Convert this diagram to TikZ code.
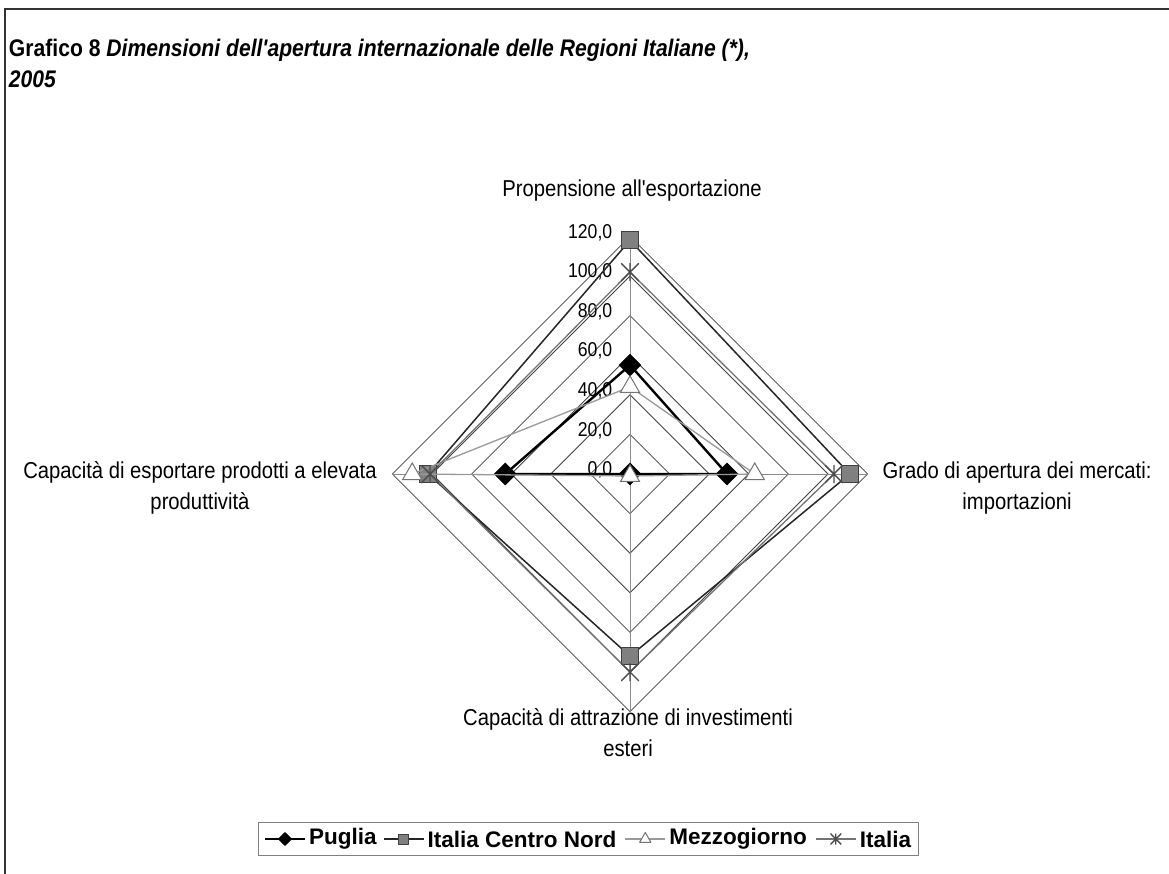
\documentclass[tikz,border=0pt]{standalone}
\usepackage{fontspec}
\setmainfont{Liberation Sans}
\newfontfamily\narrowfont[FakeStretch=0.88]{Liberation Sans}
\usetikzlibrary{shapes.geometric,positioning,fit}

\begin{document}
\begin{tikzpicture}
[x=1pt,y=-1pt,
  every node/.style={inner sep=0pt,outer sep=0pt},
  ring/.style={black!75,line width=0.8pt},
  spoke/.style={black!45,line width=0.7pt},
  axislab/.style={font=\narrowfont\fontsize{23}{31}\selectfont,align=center},
  ticklab/.style={font=\narrowfont\fontsize{20}{22}\selectfont,anchor=east},
  legtxt/.style={font=\bfseries\fontsize{22.5}{25}\selectfont,right=4pt of #1},
  puglia/.style={black,line width=2.4pt,line join=round},
  cnord/.style={black!85,line width=1.5pt,line join=round},
  mezzo/.style={black!40,line width=1.3pt,line join=round},
  italia/.style={black!55,line width=1.3pt,line join=round},
  dia/.style={diamond,fill=black,draw=black,minimum size=#1},
  dia/.default=22pt,
  sq/.style={rectangle,fill=black!50,draw=black!75,line width=1pt,minimum size=#1},
  sq/.default=17pt,
  tri/.style={regular polygon,regular polygon sides=3,fill=white,draw=black!55,line width=1pt,minimum size=#1},
  tri/.default=22pt,
  ast/.style={rectangle,minimum size=#1,black!70,
    path picture={\draw[line width=1.4pt]
      (path picture bounding box.north west) -- (path picture bounding box.south east)
      (path picture bounding box.north east) -- (path picture bounding box.south west)
      (path picture bounding box.north) -- (path picture bounding box.south);}},
  ast/.default=18pt]
\useasboundingbox (0,0) rectangle (1169,874);
\draw[black!80,line width=2pt] (1169,9) -- (5,9) -- (5,874);

% title
\node[anchor=base west,font=\narrowfont\bfseries\fontsize{24}{28}\selectfont] (title) at (9,57)
  {Grafico 8 \textit{Dimensioni dell'apertura internazionale delle Regioni Italiane (*),}};
\node[anchor=base west,font=\narrowfont\bfseries\fontsize{24}{28}\selectfont] (year) at (9,88)
  {\textit{2005}};

% radar grid
\begin{scope}[shift={(630,474)},x=1.98pt,y=1.98pt]
\foreach \r in {20,40,...,120}
  \draw[ring] (0,\r) -- (\r,0) -- (0,-\r) -- (-\r,0) -- cycle;
\draw[spoke] (0,120) -- (0,-120) (-120,0) -- (120,0);
\foreach \r in {0,20,...,120}
  \node[ticklab] (t\r) at (-9,\r+2) {\r,0};

% data points
\coordinate (p1) at (0,55);   \coordinate (p2) at (49,0);
\coordinate (p3) at (0,0);    \coordinate (p4) at (-63,0);
\coordinate (c1) at (0,118);  \coordinate (c2) at (111,0);
\coordinate (c3) at (0,-92);  \coordinate (c4) at (-102,0);
\coordinate (m1) at (0,44);   \coordinate (m2) at (63,0);
\coordinate (m3) at (0,-1);   \coordinate (m4) at (-110,0);
\coordinate (i1) at (0,102);  \coordinate (i2) at (103,0);
\coordinate (i3) at (0,-100); \coordinate (i4) at (-101,0);

\draw[puglia] (p1) -- (p2) -- (p3) -- (p4) -- cycle;
\foreach \i in {1,...,4} \node[dia] (pm\i) at (p\i) {};
\draw[cnord] (c1) -- (c2) -- (c3) -- (c4) -- cycle;
\foreach \i in {1,...,4} \node[sq] (cm\i) at (c\i) {};
\draw[mezzo] (m1) -- (m2) -- (m3) -- (m4) -- cycle;
\foreach \i in {1,...,4} \node[tri] (mm\i) at (m\i) {};
\draw[italia] (i1) -- (i2) -- (i3) -- (i4) -- cycle;
\foreach \i in {1,...,4} \node[ast] (im\i) at (i\i) {};
\end{scope}

% axis titles
\node[axislab] (prop) at (632,191) {Propensione all'esportazione};
\node[axislab] (grado) at (1017,488) {Grado di apertura dei mercati:\\importazioni};
\node[axislab] (capesp) at (200,488) {Capacità di esportare prodotti a elevata\\produttività};
\node[axislab] (capatt) at (628,733) {Capacità di attrazione di investimenti\\esteri};

% legend
\coordinate (la1) at (265,839);
\coordinate[right=40pt of la1] (lb1);
\draw[puglia,line width=1.5pt] (la1) -- (lb1) node[midway,dia=12pt] (lm1) {};
\node[legtxt=lb1] (lg1) {Puglia};
\coordinate[right=7pt of lg1] (la2);
\coordinate[right=40pt of la2] (lb2);
\draw[cnord] (la2) -- (lb2) node[midway,sq=10pt] (lm2) {};
\node[legtxt=lb2] (lg2) {Italia Centro Nord};
\coordinate[right=9pt of lg2] (la3);
\coordinate[right=40pt of la3] (lb3);
\draw[mezzo] (la3) -- (lb3) node[midway,tri=13pt] (lm3) {};
\node[legtxt=lb3] (lg3) {Mezzogiorno};
\coordinate[right=9pt of lg3] (la4);
\coordinate[right=40pt of la4] (lb4);
\draw[italia] (la4) -- (lb4) node[midway,ast=11pt] (lm4) {};
\node[legtxt=lb4] (lg4) {Italia};
\node[draw=black!50,line width=0.8pt,fit=(la1)(lg4),inner xsep=7pt,inner ysep=8pt] (legend) {};
\end{tikzpicture}
\end{document}
